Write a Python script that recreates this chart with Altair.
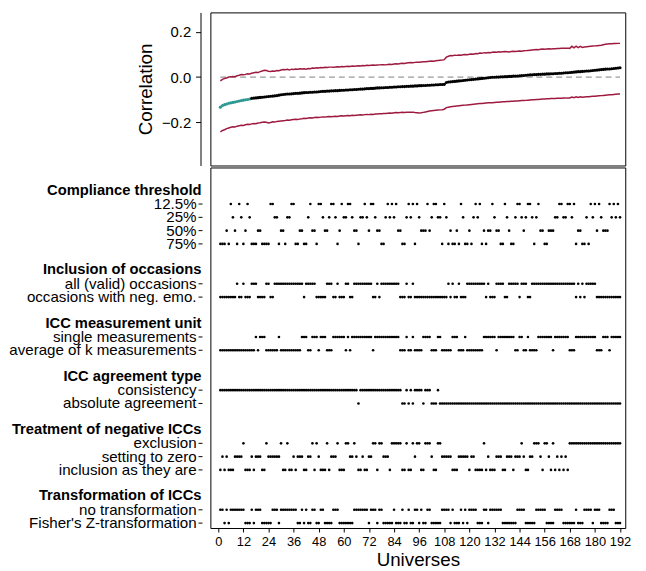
import altair as alt
import pandas as pd

FONT = "Liberation Sans"
RED = "#9e1b3f"
TEAL = "#2a9a92"

# ---------------------------------------------------------------------------
# Correlation estimates per universe (sorted) with confidence bounds
# ---------------------------------------------------------------------------
universe = list(range(1, 193))

estimate = [
    -0.133, -0.126, -0.122, -0.119, -0.116, -0.114, -0.112, -0.110, -0.108, -0.106, -0.104, -0.102, -0.100, -0.099, -0.097,
    -0.094, -0.093, -0.092, -0.091, -0.090, -0.089, -0.088, -0.087, -0.086, -0.085, -0.084, -0.083, -0.082, -0.080, -0.078,
    -0.077, -0.076, -0.075, -0.075, -0.074, -0.073, -0.072, -0.072, -0.071, -0.070, -0.069, -0.068, -0.068, -0.067, -0.067,
    -0.066, -0.066, -0.065, -0.064, -0.063, -0.063, -0.062, -0.062, -0.061, -0.061, -0.060, -0.060, -0.059, -0.058, -0.058,
    -0.057, -0.057, -0.056, -0.056, -0.055, -0.055, -0.054, -0.053, -0.053, -0.052, -0.051, -0.051, -0.050, -0.050, -0.049,
    -0.048, -0.048, -0.047, -0.047, -0.046, -0.046, -0.045, -0.045, -0.044, -0.044, -0.043, -0.043, -0.042, -0.042, -0.041,
    -0.041, -0.040, -0.040, -0.039, -0.039, -0.038, -0.038, -0.037, -0.037, -0.036, -0.036, -0.035, -0.035, -0.034, -0.034,
    -0.033, -0.033, -0.032, -0.024, -0.022, -0.021, -0.020, -0.019, -0.018, -0.017, -0.016, -0.015, -0.014, -0.013, -0.012,
    -0.011, -0.010, -0.009, -0.008, -0.007, -0.006, -0.005, -0.004, -0.003, -0.002, -0.001, -0.001, 0.000, 0.000, 0.001,
    0.001, 0.002, 0.002, 0.003, 0.003, 0.004, 0.004, 0.005, 0.006, 0.007, 0.007, 0.008, 0.009, 0.010, 0.010,
    0.011, 0.011, 0.012, 0.012, 0.013, 0.013, 0.014, 0.014, 0.015, 0.015, 0.016, 0.016, 0.017, 0.017, 0.018,
    0.019, 0.019, 0.020, 0.021, 0.022, 0.023, 0.024, 0.024, 0.025, 0.026, 0.027, 0.027, 0.028, 0.029, 0.030,
    0.031, 0.032, 0.033, 0.034, 0.035, 0.036, 0.036, 0.037, 0.038, 0.039, 0.040, 0.041,
]

ci_upper = [
    -0.017, -0.010, -0.006, -0.004, 0.000, 0.001, 0.003, 0.002, 0.006, 0.008, 0.011, 0.010, 0.012, 0.015, 0.014,
    0.017, 0.019, 0.021, 0.020, 0.024, 0.027, 0.030, 0.029, 0.026, 0.025, 0.027, 0.026, 0.029, 0.028, 0.031,
    0.033, 0.032, 0.034, 0.031, 0.035, 0.034, 0.036, 0.035, 0.037, 0.036, 0.037, 0.035, 0.038, 0.037, 0.040,
    0.039, 0.041, 0.040, 0.042, 0.041, 0.043, 0.042, 0.044, 0.044, 0.043, 0.045, 0.046, 0.045, 0.047, 0.046,
    0.047, 0.048, 0.047, 0.049, 0.048, 0.049, 0.050, 0.049, 0.051, 0.050, 0.052, 0.051, 0.052, 0.053, 0.052,
    0.053, 0.054, 0.055, 0.055, 0.054, 0.056, 0.057, 0.056, 0.058, 0.059, 0.058, 0.060, 0.061, 0.060, 0.062,
    0.063, 0.064, 0.063, 0.065, 0.066, 0.066, 0.067, 0.068, 0.068, 0.069, 0.070, 0.071, 0.070, 0.072, 0.073,
    0.074, 0.075, 0.077, 0.088, 0.092, 0.095, 0.094, 0.097, 0.096, 0.098, 0.097, 0.099, 0.100, 0.099, 0.101,
    0.102, 0.101, 0.104, 0.103, 0.106, 0.105, 0.108, 0.107, 0.109, 0.108, 0.110, 0.111, 0.110, 0.112, 0.111,
    0.112, 0.113, 0.112, 0.111, 0.113, 0.114, 0.113, 0.114, 0.115, 0.114, 0.116, 0.117, 0.118, 0.119, 0.120,
    0.121, 0.122, 0.121, 0.123, 0.124, 0.123, 0.124, 0.125, 0.124, 0.125, 0.125, 0.126, 0.126, 0.127, 0.127,
    0.127, 0.128, 0.127, 0.136, 0.129, 0.137, 0.130, 0.136, 0.131, 0.133, 0.134, 0.135, 0.136, 0.137, 0.138,
    0.139, 0.140, 0.141, 0.143, 0.145, 0.146, 0.147, 0.147, 0.148, 0.148, 0.149, 0.149,
]

ci_lower = [
    -0.242, -0.236, -0.233, -0.228, -0.225, -0.222, -0.220, -0.221, -0.217, -0.215, -0.213, -0.214, -0.211, -0.209, -0.210,
    -0.207, -0.205, -0.206, -0.203, -0.202, -0.200, -0.199, -0.200, -0.203, -0.201, -0.198, -0.199, -0.196, -0.195, -0.194,
    -0.193, -0.192, -0.190, -0.191, -0.189, -0.188, -0.187, -0.188, -0.185, -0.184, -0.182, -0.183, -0.181, -0.180, -0.181,
    -0.179, -0.178, -0.179, -0.177, -0.176, -0.177, -0.175, -0.174, -0.175, -0.174, -0.173, -0.174, -0.172, -0.171, -0.172,
    -0.171, -0.170, -0.171, -0.169, -0.170, -0.169, -0.168, -0.167, -0.168, -0.166, -0.165, -0.166, -0.164, -0.165, -0.163,
    -0.163, -0.162, -0.162, -0.161, -0.161, -0.160, -0.159, -0.160, -0.158, -0.157, -0.158, -0.157, -0.156, -0.157, -0.156,
    -0.155, -0.156, -0.155, -0.157, -0.158, -0.159, -0.158, -0.156, -0.154, -0.152, -0.150, -0.149, -0.148, -0.147, -0.146,
    -0.145, -0.144, -0.142, -0.135, -0.133, -0.131, -0.130, -0.129, -0.128, -0.127, -0.126, -0.125, -0.124, -0.123, -0.122,
    -0.121, -0.120, -0.119, -0.118, -0.117, -0.117, -0.116, -0.115, -0.114, -0.113, -0.113, -0.112, -0.111, -0.111, -0.110,
    -0.109, -0.109, -0.108, -0.108, -0.107, -0.107, -0.106, -0.106, -0.105, -0.104, -0.104, -0.103, -0.102, -0.101, -0.100,
    -0.100, -0.099, -0.099, -0.098, -0.097, -0.097, -0.096, -0.096, -0.095, -0.095, -0.095, -0.094, -0.094, -0.094, -0.093,
    -0.093, -0.092, -0.092, -0.088, -0.091, -0.087, -0.090, -0.087, -0.089, -0.088, -0.087, -0.087, -0.086, -0.085, -0.085,
    -0.084, -0.083, -0.082, -0.081, -0.080, -0.079, -0.078, -0.078, -0.077, -0.076, -0.075, -0.075,
]

# universes whose estimate is drawn in the highlight colour
n_highlight = 15

# ---------------------------------------------------------------------------
# Specification of each universe: one code letter per universe and factor
# ---------------------------------------------------------------------------
compliance_codes = (
    "DDDCDABCDABDCABDDDCCDDDDAABBDCCDBBAADDCCDDBACCDA"
    "ABCCBAABDCABBAABCCDBBABCAABCCDDBABABACCDDBABADABC"
    "CCACBAABBDABDCDDCDABDDCDBABADCDCCABCCDDABCDDBAABC"
    "BAABDBACCDDCCCBBAABBAABADCCDDBDABACABCCCABABAB"
)
inclusion_codes = (
    "NNNNNNNNANNANNNAAANNNNAANNAAAAAAAAAAAAAANAAAAANN"
    "NNNAAANNANNNAANNAAAAAAAAANNANAAAAAAAAANNNANNANNN"
    "NNNNNNNNNNNNNANANNANNNAAAAAAAAANANNNAAAANNAAAAAN"
    "AAANNAAAAAAAAAAAAAAAAAAAAANANANAAAAANNNNNNNNNNNN"
)
unit_codes = (
    "KKKKKKKKKKKKKKKKKSKSSSKKKKKKSKKKKKKKKKKSSSKKSSSK"
    "SSSKKKSSSSSSKSKSSSSSSSSSSKSSSSSSSSSSSSKKKSKKSKKK"
    "KSSSSKKKSSKKKKKSSSKKKSKKKKKKKKSSSSSSKSSSSSSSSKKS"
    "SKKSKKKKSSSSSSSKSSSSSSSKKKSSSSSSSSSSKKKSSSKSSSSS"
)
agreement_codes = (
    "CCCCCCCCCCCCCCCCCCCCCCCCCCCCCCCCCCCCCCCCCCCCCCCC"
    "CCCCCCCCCCCCCCCCCCACCCCCCCCCCCCCCCCCCCCAACACACCC"
    "CACCCAAACAAAAAAAAAAAAAAAAAAAAAAAAAAAAAAAAAAAAAAA"
    "AAAAAAAAAAAAAAAAAAAAAAAAAAAAAAAAAAAAAAAAAAAAAAAA"
)
negative_codes = (
    "IZIZIIIZZZZEIIIZIZZZIIEZZZZZZEIIEIIZIZZZIIZZEIEZ"
    "IIIEIZZZEIIIEEZZEZIIZIIZZEEIEEZZZIEEEEEIIEIIEZEE"
    "IIEEEZIIEEZZZZZIIIZZZZZIZZIIIIEIZIIIZZZIIZZZIZZZ"
    "EZIIZZEEEZIEEZIEIZIZIZIEEEEEEEEEEEEEEEEEEEEEEEEE"
)
transform_codes = (
    "NNFNFNNNNNNNFFFNFNNNFFFFFNNNFNNNNNNNNFFNFNFFNNFF"
    "NNFFFFNNNFFFFFFFNNNNNNNFNNNFNNFFFFFNFFFNFFNFFNNF"
    "NFFNNFFFFFNNNNFNFFFNFNFNNNNFFFNNFNNNNNNFFFFFFFNN"
    "NNFFFFFNNNNNFFFFNNNNFFFFFFNFFFNNNNFNNNFFFFNNNFFF"
)

spec_groups = [
    ("Compliance threshold", ["12.5%", "25%", "50%", "75%"], "ABCD", compliance_codes),
    ("Inclusion of occasions", ["all (valid) occasions", "occasions with neg. emo."], "AN", inclusion_codes),
    ("ICC measurement unit", ["single measurements", "average of k measurements"], "SK", unit_codes),
    ("ICC agreement type", ["consistency", "absolute agreement"], "CA", agreement_codes),
    ("Treatment of negative ICCs", ["exclusion", "setting to zero", "inclusion as they are"], "EZI", negative_codes),
    ("Transformation of ICCs", ["no transformation", "Fisher's Z-transformation"], "NF", transform_codes),
]

for series in (estimate, ci_upper, ci_lower):
    assert len(series) == len(universe)
for _, _, _, codes in spec_groups:
    assert len(codes) == len(universe), len(codes)

# ---------------------------------------------------------------------------
# Tables
# ---------------------------------------------------------------------------
est_df = pd.DataFrame({
    "universe": universe,
    "estimate": estimate,
    "ci_lower": ci_lower,
    "ci_upper": ci_upper,
})
est_df["group"] = ["highlight" if u <= n_highlight else "other" for u in universe]

zero_df = pd.DataFrame({"start": [universe[0]], "end": [universe[-1]], "y": [0.0]})

# one text row per header, one per level, a blank row between groups
header_rows, level_rows, dot_records = [], [], []
row = 0
for title, levels, keys, codes in spec_groups:
    header_rows.append({"row": row, "title": title})
    for k, level in enumerate(levels):
        level_rows.append({"row": row + 1 + k, "label": level})
    for u, c in zip(universe, codes):
        dot_records.append({"universe": u, "row": row + 1 + keys.index(c)})
    row += len(levels) + 2

header_df = pd.DataFrame(header_rows)
level_df = pd.DataFrame(level_rows)
dot_df = pd.DataFrame(dot_records)

# ---------------------------------------------------------------------------
# Charts
# ---------------------------------------------------------------------------
PLOT_W = 420
x_scale = alt.Scale(domain=[-3.77, 194.5], nice=False, zero=False)

y_top = alt.Scale(domain=[-0.391, 0.286], nice=False, zero=False)
y_top_axis = alt.Axis(
    values=[-0.2, 0.0, 0.2], format=".1f", title="Correlation", offset=10,
    tickSize=5, tickColor="black", domainColor="black", labelColor="black",
    labelFontSize=15, titleFontSize=19, titleFontWeight="normal",
    titleColor="black", labelPadding=5, titlePadding=6, grid=False,
)

base = alt.Chart(est_df)
upper_line = base.mark_line(color=RED, strokeWidth=1.5).encode(
    x=alt.X("universe:Q", scale=x_scale, axis=None),
    y=alt.Y("ci_upper:Q", scale=y_top, axis=y_top_axis),
)
lower_line = base.mark_line(color=RED, strokeWidth=1.5).encode(
    x=alt.X("universe:Q", scale=x_scale, axis=None),
    y=alt.Y("ci_lower:Q", scale=y_top),
)
zero_rule = alt.Chart(zero_df).mark_rule(
    color="#9a9a9a", strokeDash=[6, 4], strokeWidth=1.4
).encode(
    x=alt.X("start:Q", scale=x_scale, axis=None),
    x2="end:Q",
    y=alt.Y("y:Q", scale=y_top),
)
points = base.mark_circle(size=10, opacity=1).encode(
    x=alt.X("universe:Q", scale=x_scale, axis=None),
    y=alt.Y("estimate:Q", scale=y_top),
    color=alt.Color("group:N", scale=alt.Scale(domain=["highlight", "other"], range=[TEAL, "black"]), legend=None),
)
top = alt.layer(zero_rule, upper_line, lower_line, points).properties(width=PLOT_W, height=155)

y_bottom = alt.Scale(domain=[-1.75, 25.37], reverse=True, nice=False, zero=False)
dots = alt.Chart(dot_df).mark_circle(size=7, color="black", opacity=1).encode(
    x=alt.X(
        "universe:Q", scale=x_scale,
        axis=alt.Axis(
            values=list(range(0, 193, 12)), title="Universes", domain=False,
            tickSize=4, tickColor="black", labelColor="black", labelFontSize=13,
            labelOverlap=False, titleFontSize=19, titleFontWeight="normal",
            titleColor="black", labelPadding=4, titlePadding=2, grid=False,
        ),
    ),
    y=alt.Y("row:Q", scale=y_bottom, axis=None),
)
# bold group titles
headers = alt.Chart(header_df).mark_text(
    align="right", baseline="middle", fontWeight="bold", fontSize=14.9,
    font=FONT, color="black",
).encode(
    x=alt.value(-9),
    y=alt.Y("row:Q", scale=y_bottom),
    text="title:N",
)
# level names with a short tick each
level_text = alt.Chart(level_df).mark_text(
    align="right", baseline="middle", fontSize=15.3, font=FONT, color="black",
).encode(
    x=alt.value(-14),
    y=alt.Y("row:Q", scale=y_bottom),
    text="label:N",
)
level_ticks = alt.Chart(level_df).mark_rule(color="black", strokeWidth=1).encode(
    x=alt.value(-12),
    x2=alt.value(-8),
    y=alt.Y("row:Q", scale=y_bottom),
)
bottom = alt.layer(dots, headers, level_text, level_ticks).properties(width=PLOT_W, height=365)

chart = (
    alt.vconcat(top, bottom, spacing=0)
    .properties(padding={"left": 8, "top": 8, "right": 14, "bottom": 0})
    .configure(font=FONT)
    .configure_axis(labelFont=FONT, titleFont=FONT)
    .configure_view(stroke="black", strokeWidth=1)
)

chart.save("out.html", embed_options={"renderer": "svg", "actions": False})
